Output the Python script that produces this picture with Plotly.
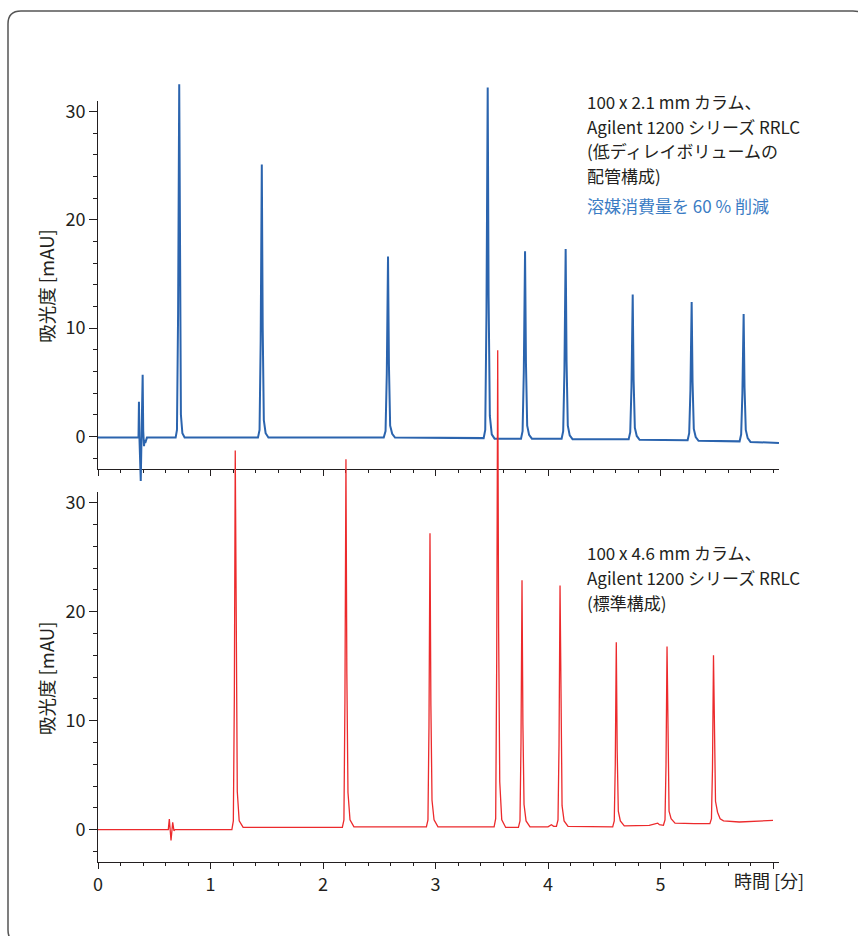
import plotly.graph_objects as go

# ---------------- data ----------------
# Top chromatogram: 100 x 2.1 mm column (blue)
blue_time = [
    0.000, 0.355,
    0.360, 0.364, 0.368, 0.380, 0.390, 0.397, 0.402, 0.409, 0.414, 0.420, 0.435,
    0.690, 0.702, 0.712, 0.722, 0.729, 0.737, 0.750, 0.770,
    1.422, 1.436, 1.446, 1.456, 1.464, 1.474, 1.490, 1.515,
    2.540, 2.556, 2.567, 2.578, 2.586, 2.597, 2.615, 2.640,
    3.428, 3.442, 3.453, 3.464, 3.472, 3.483, 3.500, 3.525,
    3.760, 3.774, 3.785, 3.796, 3.804, 3.815, 3.832, 3.857,
    4.121, 4.135, 4.146, 4.157, 4.165, 4.176, 4.193, 4.218,
    4.717, 4.731, 4.742, 4.753, 4.761, 4.772, 4.789, 4.814,
    5.241, 5.255, 5.266, 5.277, 5.285, 5.296, 5.313, 5.338,
    5.703, 5.717, 5.728, 5.739, 5.747, 5.758, 5.775, 5.800,
    6.053,
]
blue_abs = [
    -0.10, -0.10,
    -0.10, 3.20, 0.00, -4.10, 0.50, 5.70, 0.50, -0.90, -0.30, -0.60, -0.10,
    -0.10, 0.60, 11.4, 32.5, 13.0, 2.00, 0.30, -0.10,
    -0.10, 0.60, 8.80, 25.1, 10.0, 1.50, 0.30, -0.10,
    -0.10, 0.50, 5.80, 16.6, 6.60, 1.00, 0.25, -0.10,
    -0.15, 0.60, 11.3, 32.2, 12.9, 1.90, 0.20, -0.20,
    -0.20, 0.50, 6.00, 17.1, 6.80, 1.00, 0.15, -0.20,
    -0.20, 0.50, 6.10, 17.3, 6.90, 1.00, 0.10, -0.25,
    -0.25, 0.40, 4.60, 13.1, 5.20, 0.80, 0.05, -0.30,
    -0.35, 0.30, 4.30, 12.4, 5.00, 0.70, -0.05, -0.40,
    -0.45, 0.20, 4.00, 11.3, 4.50, 0.60, -0.15, -0.50,
    -0.60,
]

# Bottom chromatogram: 100 x 4.6 mm column (red)
red_time = [
    0.000, 0.625, 0.634, 0.649, 0.664, 0.675, 0.685,
    1.190, 1.203, 1.212, 1.220, 1.228, 1.238, 1.255, 1.290,
    2.172, 2.186, 2.195, 2.204, 2.212, 2.222, 2.240, 2.275,
    2.919, 2.933, 2.942, 2.951, 2.959, 2.969, 2.987, 3.022,
    3.521, 3.535, 3.544, 3.553, 3.561, 3.571, 3.589, 3.624,
    3.737, 3.751, 3.760, 3.769, 3.777, 3.787, 3.805, 3.840,
    4.000, 4.030, 4.050,
    4.075, 4.089, 4.098, 4.107, 4.115, 4.125, 4.143, 4.178,
    4.575, 4.589, 4.598, 4.607, 4.615, 4.625, 4.643, 4.678,
    4.900, 4.975, 4.990, 5.005,
    5.026, 5.040, 5.049, 5.058, 5.066, 5.076, 5.094, 5.129,
    5.300,
    5.439, 5.453, 5.462, 5.471, 5.479, 5.489, 5.507, 5.530, 5.560, 5.700, 6.000,
]
red_abs = [
    0.00, 0.00, 0.98, -1.00, 0.67, -0.10, 0.00,
    0.00, 0.80, 12.2, 34.8, 14.6, 3.50, 0.80, 0.20,
    0.20, 0.90, 11.9, 34.0, 14.3, 3.40, 0.90, 0.25,
    0.25, 0.90, 9.50, 27.2, 11.4, 2.70, 0.90, 0.25,
    0.25, 1.00, 15.4, 44.0, 18.5, 4.40, 0.90, 0.20,
    0.20, 0.80, 8.00, 22.9, 9.60, 2.30, 0.80, 0.25,
    0.25, 0.45, 0.30,
    0.30, 0.90, 7.80, 22.4, 9.40, 2.20, 0.80, 0.30,
    0.25, 0.80, 6.00, 17.2, 7.20, 1.70, 0.80, 0.35,
    0.40, 0.60, 0.45, 0.40,
    0.40, 0.90, 5.90, 16.8, 7.10, 1.70, 1.00, 0.60,
    0.55,
    0.55, 1.00, 5.60, 16.0, 6.70, 2.60, 1.60, 1.00, 0.80, 0.70, 0.85,
]

x_tick_vals = [0, 1, 2, 3, 4, 5, 6]
x_tick_text = ["0", "1", "2", "3", "4", "5", ""]
y_tick_vals = [0, 10, 20, 30]
y_tick_text = ["0", "10", "20", "30"]

y_title = "吸光度 [mAU]"
x_title = "時間 [分]"
top_notes = ["100 x 2.1 mm カラム、", "Agilent 1200 シリーズ RRLC",
             "(低ディレイボリュームの", "配管構成)"]
top_highlight = "溶媒消費量を 60 % 削減"
bottom_notes = ["100 x 4.6 mm カラム、", "Agilent 1200 シリーズ RRLC", "(標準構成)"]

# ---------------- layout helpers ----------------
W, H = 858, 936
L, R = 98, 79
PW = W - L - R


def px_x(px):
    return (px - L) / PW


def px_y(py):
    return 1 - py / H


X_MAX = PW / 112.5
TXT = "#231f20"
BLUE = "#2b64ae"
RED = "#ec2a2c"
FONT = "Noto Sans CJK JP, Noto Sans, sans-serif"
NOTE_SIZE = 17
NOTE_STEP = 24.8

# frame axes pixel positions
T_TOP, T_BOT = 97, 467
B_TOP, B_BOT = 490, 862
k1 = (T_BOT - T_TOP) / 34.0
k2 = (B_BOT - B_TOP) / 34.0
D1_TOP, D1_BOT = 60, 500
D2_TOP, D2_BOT = 330, 870

fig = go.Figure()
# invisible placeholders so the framed subplots exist
fig.add_trace(go.Scatter(x=[None], y=[None], xaxis="x", yaxis="y", mode="lines",
                         hoverinfo="skip", showlegend=False))
fig.add_trace(go.Scatter(x=[None], y=[None], xaxis="x2", yaxis="y3", mode="lines",
                         hoverinfo="skip", showlegend=False))
fig.add_trace(go.Scatter(x=blue_time, y=blue_abs, mode="lines", xaxis="x", yaxis="y2",
                         line=dict(color=BLUE, width=2), hoverinfo="skip", showlegend=False))
fig.add_trace(go.Scatter(x=red_time, y=red_abs, mode="lines", xaxis="x2", yaxis="y4",
                         line=dict(color=RED, width=1.3), hoverinfo="skip", showlegend=False))

xcommon = dict(range=[0, X_MAX], domain=[0, 1], showgrid=False, zeroline=False,
               showline=True, linecolor=TXT, linewidth=1, ticks="outside", ticklen=6,
               tickwidth=1, tickcolor=TXT, tickmode="array", tickvals=x_tick_vals,
               ticktext=x_tick_text,
               minor=dict(dtick=0.2, tick0=0, ticks="outside", ticklen=3,
                          tickwidth=1, tickcolor=TXT),
               tickfont=dict(family=FONT, size=18, color=TXT))
ycommon = dict(range=[-3, 31], showgrid=False, zeroline=False, showline=True,
               linecolor=TXT, linewidth=1, ticks="outside", ticklen=8, tickwidth=1,
               tickcolor=TXT, tickmode="array", tickvals=y_tick_vals, ticktext=y_tick_text,
               minor=dict(dtick=2, tick0=0, ticks="outside", ticklen=4,
                          tickwidth=1, tickcolor=TXT),
               tickfont=dict(family=FONT, size=18, color=TXT))

fig.update_layout(
    width=W, height=H, margin=dict(l=L, r=R, t=0, b=0),
    paper_bgcolor="white", plot_bgcolor="rgba(0,0,0,0)",
    xaxis=dict(xcommon, anchor="y", showticklabels=False),
    yaxis=dict(ycommon, anchor="x", domain=[px_y(T_BOT), px_y(T_TOP)]),
    yaxis2=dict(visible=False, anchor="x", domain=[px_y(D1_BOT), px_y(D1_TOP)],
                range=[-3 - (D1_BOT - T_BOT) / k1, 31 + (T_TOP - D1_TOP) / k1]),
    xaxis2=dict(xcommon, anchor="y3"),
    yaxis3=dict(ycommon, anchor="x2", domain=[px_y(B_BOT), px_y(B_TOP)]),
    yaxis4=dict(visible=False, anchor="x2", domain=[px_y(D2_BOT), px_y(D2_TOP)],
                range=[-3 - (D2_BOT - B_BOT) / k2, 31 + (B_TOP - D2_TOP) / k2]),
)

ann = []
for cy in (283, 677):
    ann.append(dict(text=y_title, x=px_x(46), y=px_y(cy), xref="paper", yref="paper",
                    textangle=-90, showarrow=False, xanchor="center", yanchor="middle",
                    font=dict(family=FONT, size=18.5, color=TXT)))
ann.append(dict(text=x_title, x=px_x(732), y=px_y(880), xref="paper", yref="paper",
                showarrow=False, xanchor="left", yanchor="middle",
                font=dict(family=FONT, size=18, color=TXT)))
for i, line in enumerate(top_notes):
    ann.append(dict(text=line, x=px_x(586), y=px_y(98 + NOTE_STEP * i), xref="paper",
                    yref="paper", showarrow=False, xanchor="left", yanchor="middle",
                    borderpad=0, font=dict(family=FONT, size=NOTE_SIZE, color=TXT)))
ann.append(dict(text=top_highlight, x=px_x(586), y=px_y(202), xref="paper", yref="paper",
                showarrow=False, xanchor="left", yanchor="middle", borderpad=0,
                font=dict(family=FONT, size=NOTE_SIZE, color="#3b7cc4")))
for i, line in enumerate(bottom_notes):
    ann.append(dict(text=line, x=px_x(586), y=px_y(551 + NOTE_STEP * i), xref="paper",
                    yref="paper", showarrow=False, xanchor="left", yanchor="middle",
                    borderpad=0, font=dict(family=FONT, size=NOTE_SIZE, color=TXT)))
fig.update_layout(annotations=ann)

# rounded outer frame
x0, y0, x1, y1, r = 8, 7, 866, 943, 13
pts = [
    ("M", [(x0 + r, y0)]), ("L", [(x1 - r, y0)]), ("Q", [(x1, y0), (x1, y0 + r)]),
    ("L", [(x1, y1 - r)]), ("Q", [(x1, y1), (x1 - r, y1)]), ("L", [(x0 + r, y1)]),
    ("Q", [(x0, y1), (x0, y1 - r)]), ("L", [(x0, y0 + r)]), ("Q", [(x0, y0), (x0 + r, y0)]),
]
path = " ".join(c + " " + " ".join(f"{px_x(a):.5f},{px_y(b):.5f}" for a, b in p) for c, p in pts) + " Z"
fig.add_shape(type="path", path=path, xref="paper", yref="paper",
              line=dict(color="#555555", width=1.5), fillcolor="rgba(0,0,0,0)", layer="above")

fig.write_html("out.html")
